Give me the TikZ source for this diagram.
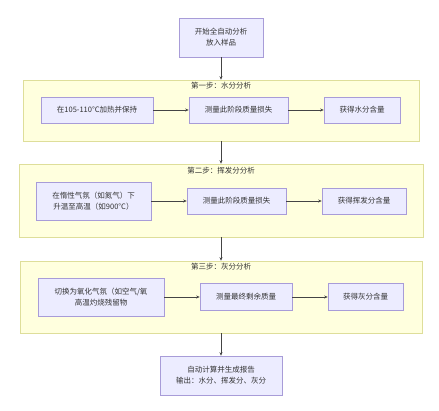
\documentclass[tikz,border=0pt]{standalone}
\usepackage{fontspec}
\setmainfont{Noto Sans CJK SC}
\usetikzlibrary{
	arrows.meta,
	positioning
}
\definecolor{caixa}{HTML}{ECECFF}
\definecolor{borda}{HTML}{A89CD8}
\definecolor{fundogrupo}{HTML}{FFFFDE}
\definecolor{bordagrupo}{HTML}{DEDE9A}
\definecolor{linha}{HTML}{444444}

\begin{document}
\begin{tikzpicture}[
			x=1pt, y=1pt,
			font=\fontsize{7.5}{11}\selectfont,
			bloco/.style={draw=borda, fill=caixa, line width=0.6pt, align=center, inner sep=0pt, text=black!80},
			grupo/.style={draw=bordagrupo, fill=fundogrupo, line width=0.6pt, inner sep=0pt},
			titulo/.style={inner sep=0pt, text=black!80},
			>={Stealth[length=3.5pt, width=3pt]},
			fl/.style={->, draw=linha, line width=0.5pt}
		]
		\fill[white] (0,0) rectangle (439,-411);
		\useasboundingbox (0,0) rectangle (439,-411);

		% grupos
		\node[grupo, minimum width=396, minimum height=61] (passo1) at (221,-110.5) {};
		\node[grupo, minimum width=404, minimum height=73] (passo2) at (221,-200.5) {};
		\node[grupo, minimum width=402, minimum height=72] (passo3) at (221,-297) {};

		\node[titulo] (titulo1) at (221,-86) {第一步：水分分析};
		\node[titulo] (titulo2) at (221,-171) {第二步：挥发分分析};
		\node[titulo] (titulo3) at (221,-267) {第三步：灰分分析};

		\node[bloco, minimum width=84, minimum height=39] (inicio) at (221,-37.5) {开始全自动分析\\ 放入样品};

		\node[bloco, minimum width=112, minimum height=26] (aquece) at (97,-110) {在105-110°C加热并保持};
		\node[bloco, minimum width=99, minimum height=26] (perda1) at (238.5,-110) {测量此阶段质量损失};
		\node[bloco, minimum width=76, minimum height=26] (agua) at (362,-110) {获得水分含量};

		\node[bloco, minimum width=115, minimum height=38] (inerte) at (93.5,-201) {在惰性气氛（如氮气）下\\ 升温至高温（如900°C）};
		\node[bloco, minimum width=99, minimum height=26] (perda2) at (236.5,-201) {测量此阶段质量损失};
		\node[bloco, minimum width=84, minimum height=26] (volatil) at (364,-201) {获得挥发分含量};

		\node[bloco, minimum width=126, minimum height=38] (oxida) at (101,-297) {切换为氧化气氛（如空气/氧\\ 高温灼烧残留物};
		\node[bloco, minimum width=92, minimum height=27] (residuo) at (246,-297) {测量最终剩余质量};
		\node[bloco, minimum width=75, minimum height=27] (cinza) at (365.5,-297) {获得灰分含量};

		\node[bloco, minimum width=122, minimum height=39] (relatorio) at (221,-375.5) {自动计算并生成报告\\ 输出：水分、挥发分、灰分};

		\draw[fl] (inicio) -- (passo1);
		\draw[fl] (aquece) -- (perda1);
		\draw[fl] (perda1) -- (agua);
		\draw[fl] (passo1) -- (passo2);
		\draw[fl] (inerte) -- (perda2);
		\draw[fl] (perda2) -- (volatil);
		\draw[fl] (passo2) -- (passo3);
		\draw[fl] (oxida) -- (residuo);
		\draw[fl] (residuo) -- (cinza);
		\draw[fl] (passo3) -- (relatorio);
	\end{tikzpicture}
\end{document}
